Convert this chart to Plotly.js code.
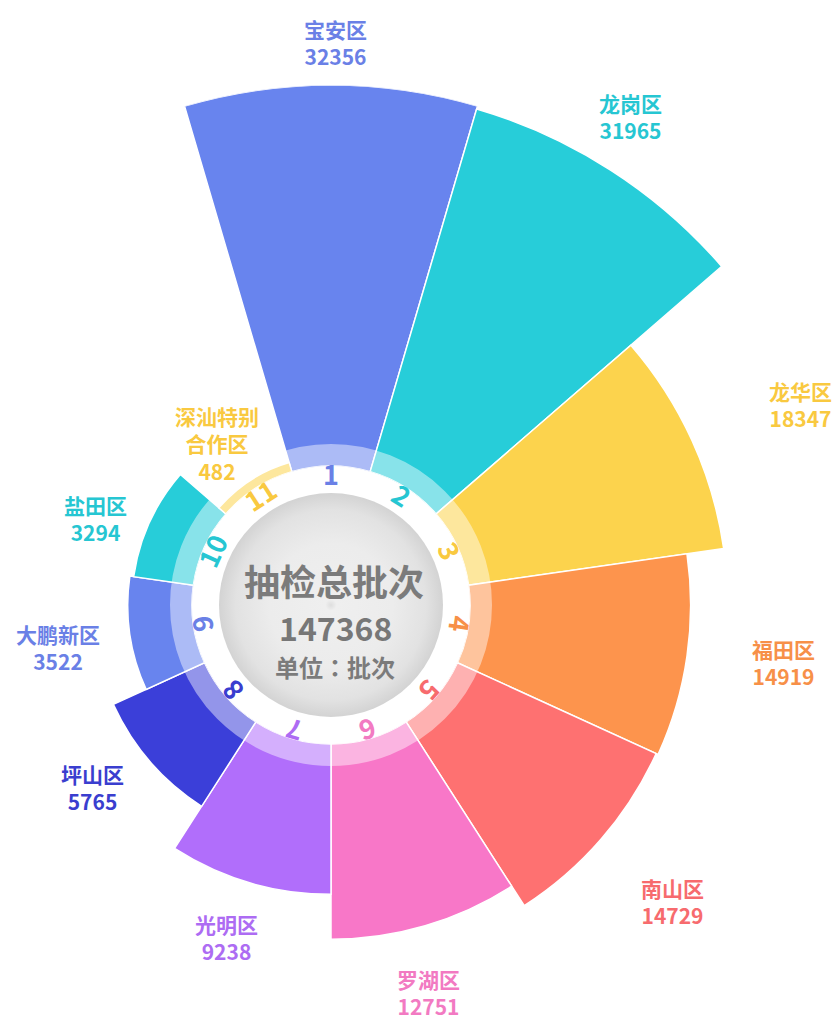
<!DOCTYPE html>
<html>
<head>
<meta charset="utf-8">
<script src="https://cdn.plot.ly/plotly-3.0.1.min.js"></script>
<style>
  html, body { margin: 0; padding: 0; width: 838px; height: 1021px; overflow: hidden; background: #ffffff; }
  #chart { position: absolute; }
</style>
</head>
<body>
<div id="chart"></div>
<script>
// ---------------- data ----------------
const districts = ['宝安区', '龙岗区', '龙华区', '福田区', '南山区', '罗湖区', '光明区', '坪山区', '大鹏新区', '盐田区', '深汕特别合作区'];
const batches   = [32356, 31965, 18347, 14919, 14729, 12751, 9238, 5765, 3522, 3294, 482];
const rankLabels = ['1', '2', '3', '4', '5', '6', '7', '8', '9', '10', '11'];
const centerTitle = '抽检总批次';
const centerUnit = '单位：批次';

// ---------------- styles ----------------
const colors = ['#6884ee', '#27cdd9', '#fcd34d', '#fd944d', '#fe7171', '#f877c8',
                '#b16efb', '#3b3fd9', '#6884ee', '#27cdd9', '#fcd34d'];
const labelColors = ['#6a80e6', '#26c6d2', '#f9c940', '#f79048', '#f76b6e', '#f27ac2',
                     '#ad6cf3', '#3a3ecf', '#6a80e6', '#26c6d2', '#f9c940'];
// label centres (page px)
const labelPos = [[335, 43], [630, 117], [800, 404], [783, 662], [672, 901], [428, 992],
                  [226, 937], [92, 787], [58, 647], [95, 519], [217, 443]];

// geometry (page px)
const CX = 331, CY = 605, R = 520;      // polar centre / outer radius
const HOLE_R = 139;                     // start of sectors
const RING_MID = 150, RING_W = 22;      // translucent ring
const NUM_R = 131;                      // rank numbers radius
const CORE_R = 112;                     // grey centre disc
const BASE = 20000;                     // radial base offset on log axis

const L = CX - R, T = -20;
const W = 2 * R, H = CY + R - T;
const div = document.getElementById('chart');
div.style.left = L + 'px';
div.style.top = T + 'px';

const px2x = px => (px - L) / W;
const py2y = py => 1 - (py - T) / H;

const total = batches.reduce((a, b) => a + b, 0);
const font = '"Noto Sans CJK SC", "Noto Sans", sans-serif';

const traces = [{
  type: 'barpolar',
  theta: districts,
  r: batches,
  base: BASE,
  marker: { color: colors, line: { color: '#ffffff', width: 1.5 } },
  hoverinfo: 'skip',
  showlegend: false
}];

const annotations = [];
const n = districts.length;
for (let i = 0; i < n; i++) {
  const nm = districts[i];
  const nameHtml = nm.length > 4 ? nm.slice(0, 4) + '<br>' + nm.slice(4) : nm;
  annotations.push({
    xref: 'paper', yref: 'paper',
    x: px2x(labelPos[i][0]), y: py2y(labelPos[i][1]),
    xanchor: 'center', yanchor: 'middle',
    text: nameHtml + '<br>' + batches[i],
    showarrow: false,
    font: { family: font, size: 21, color: labelColors[i], weight: 'bold' }
  });
  const ang = i * 360 / n;
  const a = ang * Math.PI / 180;
  annotations.push({
    xref: 'paper', yref: 'paper',
    x: px2x(CX + NUM_R * Math.sin(a)), y: py2y(CY - NUM_R * Math.cos(a)),
    xanchor: 'center', yanchor: 'middle',
    text: '<b>' + rankLabels[i] + '</b>',
    textangle: ang > 180 ? ang - 360 : ang,
    showarrow: false,
    font: { family: font, size: 27, color: labelColors[i] }
  });
}
annotations.push({
  xref: 'paper', yref: 'paper', x: px2x(CX + 3), y: py2y(CY - 25),
  xanchor: 'center', yanchor: 'middle', showarrow: false,
  text: '<b>' + centerTitle + '</b>',
  font: { family: font, size: 36, color: '#7b7b7b' }
});
annotations.push({
  xref: 'paper', yref: 'paper', x: px2x(CX + 4), y: py2y(CY + 22),
  xanchor: 'center', yanchor: 'middle', showarrow: false,
  text: '<b>' + total + '</b>',
  font: { family: font, size: 32, color: '#777777' }
});
annotations.push({
  xref: 'paper', yref: 'paper', x: px2x(CX + 4), y: py2y(CY + 61),
  xanchor: 'center', yanchor: 'middle', showarrow: false,
  text: '<b>' + centerUnit + '</b>',
  font: { family: '"Noto Sans CJK JP", "Noto Sans CJK SC", sans-serif', size: 24, color: '#7b7b7b' }
});

const svg = '<svg xmlns="http://www.w3.org/2000/svg" width="200" height="200" viewBox="0 0 200 200">' +
  '<defs><radialGradient id="g" cx="50%" cy="50%" r="50%">' +
  '<stop offset="0%" stop-color="#dedede"/>' +
  '<stop offset="5%" stop-color="#efefef"/>' +
  '<stop offset="55%" stop-color="#ececec"/>' +
  '<stop offset="85%" stop-color="#e2e2e2"/>' +
  '<stop offset="100%" stop-color="#d3d3d3"/>' +
  '</radialGradient></defs><circle cx="100" cy="100" r="100" fill="url(#g)"/></svg>';

const layout = {
  width: W, height: H,
  autosize: false,
  margin: { l: 0, r: 0, t: 0, b: 0, pad: 0 },
  paper_bgcolor: 'rgba(0,0,0,0)',
  plot_bgcolor: 'rgba(0,0,0,0)',
  showlegend: false,
  polar: {
    domain: { x: [0, 1], y: [py2y(CY + R), py2y(CY - R)] },
    hole: HOLE_R / R,
    bgcolor: 'rgba(0,0,0,0)',
    bargap: 0,
    angularaxis: {
      type: 'category', rotation: 90, direction: 'clockwise',
      showgrid: false, showline: false, showticklabels: false, ticks: ''
    },
    radialaxis: {
      type: 'log',
      range: [Math.log10(BASE), Math.log10(BASE + Math.max(...batches))],
      visible: false, showgrid: false, showline: false, showticklabels: false, ticks: ''
    }
  },
  images: [{
    source: 'data:image/svg+xml;charset=utf-8,' + encodeURIComponent(svg),
    xref: 'paper', yref: 'paper',
    x: px2x(CX), y: py2y(CY),
    sizex: 2 * CORE_R / W, sizey: 2 * CORE_R / H,
    xanchor: 'center', yanchor: 'middle',
    sizing: 'stretch', layer: 'above'
  }],
  shapes: [{
    type: 'circle', xref: 'paper', yref: 'paper', layer: 'above',
    x0: px2x(CX - RING_MID), x1: px2x(CX + RING_MID),
    y0: py2y(CY + RING_MID), y1: py2y(CY - RING_MID),
    line: { color: 'rgba(255,255,255,0.45)', width: RING_W },
    fillcolor: 'rgba(0,0,0,0)'
  }],
  annotations: annotations
};

Plotly.newPlot(div, traces, layout, { displayModeBar: false, staticPlot: true });
</script>
</body>
</html>
